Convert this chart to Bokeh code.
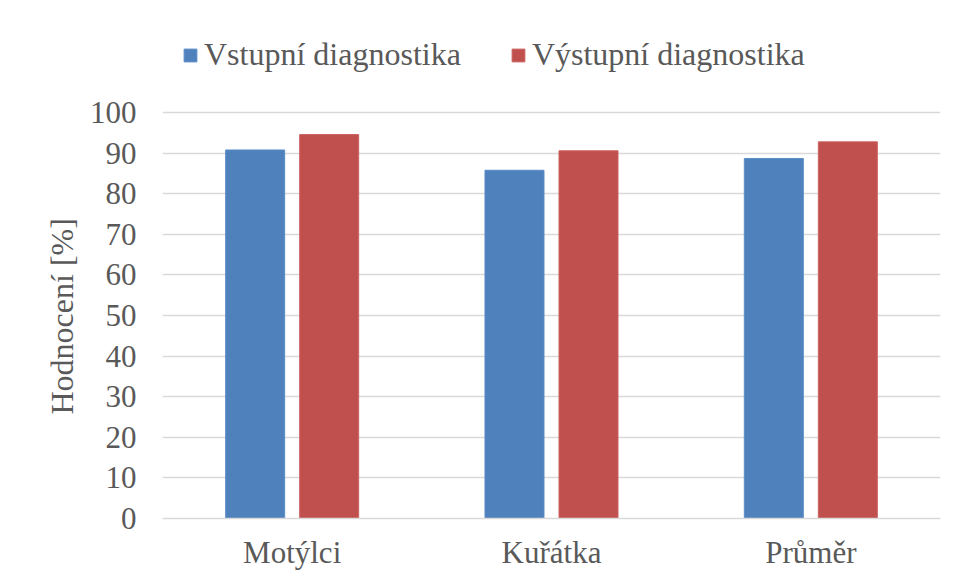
from bokeh.plotting import figure
from bokeh.models import ColumnDataSource, FactorRange, Range1d, Legend, LegendItem, FixedTicker, Title
from bokeh.transform import dodge
from bokeh.embed import file_html
from bokeh.resources import INLINE

categories = ["Motýlci", "Kuřátka", "Průměr"]
vstupni = [90.8, 85.8, 88.7]
vystupni = [94.6, 90.6, 92.8]
series_names = ["Vstupní diagnostika", "Výstupní diagnostika"]
y_ticks = [0, 10, 20, 30, 40, 50, 60, 70, 80, 90, 100]
y_title = "Hodnocení [%]"

FONT = "Liberation Serif"
TXT = "#595959"
GRID = "#D9D9D9"

src = ColumnDataSource(dict(cat=categories, v1=vstupni, v2=vystupni))

# the frame reaches above 100 so that the legend can sit inside it
p = figure(x_range=FactorRange(*categories, range_padding=0), y_range=Range1d(0, 122.7),
           width=952, height=579, output_backend="svg", toolbar_location=None,
           min_border_left=162, min_border_right=12, min_border_top=20, min_border_bottom=61)
p.outline_line_color = None
p.background_fill_color = "white"
p.border_fill_color = "white"

r1 = p.vbar(x=dodge("cat", -0.1427, range=p.x_range), top="v1", width=0.2275, source=src,
            fill_color="#4F81BD", line_color="#5B8CC6", line_width=1)
r2 = p.vbar(x=dodge("cat", 0.1427, range=p.x_range), top="v2", width=0.2275, source=src,
            fill_color="#C0504D", line_color="#CB6361", line_width=1)

p.yaxis.ticker = FixedTicker(ticks=y_ticks)
p.ygrid.ticker = FixedTicker(ticks=y_ticks)
p.ygrid.grid_line_color = GRID
p.ygrid.grid_line_width = 1.5
p.xgrid.grid_line_color = None

for ax in (p.xaxis[0], p.yaxis[0]):
    ax.major_label_text_font = FONT
    ax.major_label_text_font_size = "31px"
    ax.major_label_text_color = TXT
    ax.major_tick_line_color = None
    ax.minor_tick_line_color = None
    ax.major_tick_out = 0
    ax.major_tick_in = 0

p.yaxis.axis_line_color = None
p.yaxis.major_label_standoff = 26

p.xaxis.axis_line_color = GRID
p.xaxis.axis_line_width = 1.5
p.xaxis.major_label_standoff = 16

ytitle = Title(text=y_title, align="left", offset=104, standoff=14,
               text_font=FONT, text_font_size="32px", text_font_style="normal", text_color=TXT)
p.add_layout(ytitle, "left")

legend = Legend(items=[LegendItem(label=series_names[0], renderers=[r1]),
                       LegendItem(label=series_names[1], renderers=[r2])],
                location=(20, 445), orientation="horizontal")
legend.label_text_font = FONT
legend.label_text_font_size = "32px"
legend.label_text_color = TXT
legend.glyph_width = 16
legend.glyph_height = 16
legend.label_standoff = 6
legend.spacing = 49
legend.padding = 0
legend.margin = 0
legend.border_line_color = None
legend.background_fill_alpha = 0
p.add_layout(legend, "center")

open("out.html", "w").write(file_html(p, INLINE))
